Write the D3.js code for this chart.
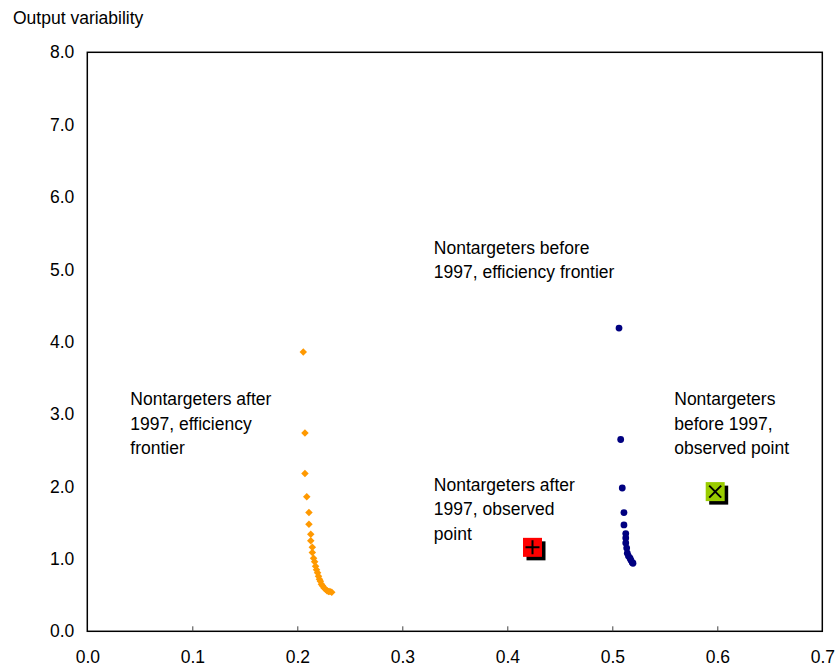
<!DOCTYPE html>
<html>
<head>
<meta charset="utf-8">
<script src="https://cdn.jsdelivr.net/npm/d3@7"></script>
<style>
	body { margin: 0; background: #fff; }
	text { font-family: Arial, 'Liberation Sans', sans-serif; fill: #000; }
</style>
</head>
<body>
<div id="graph"></div>
<script>

// frontier after 1997 (x = inflation variability, y = output variability)
var afterX = [0.2057, 0.2073, 0.2073, 0.2090, 0.2111, 0.2111, 0.2128, 0.2128, 0.2143, 0.2143,
	0.2155, 0.2165, 0.2174, 0.2183, 0.2193, 0.2202, 0.2211, 0.2220, 0.2230, 0.2240,
	0.2254, 0.2269, 0.2283, 0.2297, 0.2311, 0.2328];
var afterY = [3.86, 2.74, 2.18, 1.86, 1.64, 1.48, 1.34, 1.25, 1.16, 1.09,
	1.01, 0.96, 0.90, 0.85, 0.81, 0.76, 0.72, 0.69, 0.65, 0.63,
	0.60, 0.58, 0.56, 0.55, 0.55, 0.54];

// frontier before 1997
var beforeX = [0.5064, 0.5080, 0.5095, 0.5111, 0.5111, 0.5128, 0.5128, 0.5128, 0.5137, 0.5143,
	0.5154, 0.5169, 0.5178, 0.5190, 0.5197];
var beforeY = [4.19, 2.65, 1.98, 1.64, 1.47, 1.35, 1.29, 1.22, 1.15, 1.08,
	1.04, 1.01, 0.98, 0.95, 0.94];

// observed points
var observedAfter = [0.424, 1.16];
var observedBefore = [0.598, 1.93];

var xTicks = [0, 0.1, 0.2, 0.3, 0.4, 0.5, 0.6, 0.7];
var yTicks = [0, 1, 2, 3, 4, 5, 6, 7, 8];

var labels = [
	{ lines: ['Nontargeters after', '1997, efficiency', 'frontier'], x: 0.041, y: 3.12 },
	{ lines: ['Nontargeters before', '1997, efficiency frontier'], x: 0.330, y: 5.22 },
	{ lines: ['Nontargeters after', '1997, observed', 'point'], x: 0.330, y: 1.94 },
	{ lines: ['Nontargeters', 'before 1997,', 'observed point'], x: 0.559, y: 3.12 }
];

var width = 835,
	height = 668;

var xScale = d3.scaleLinear()
				.domain([0, 0.7])
				.range([87.3, 822.3]);

var yScale = d3.scaleLinear()
				.domain([0, 8])
				.range([631.3, 52.3]);

var svg = d3.select('#graph').append('svg')
			.attr('width', width)
			.attr('height', height);

function drawAxes() {
	// plot area frame
	svg.append('rect')
		.attr('x', xScale(0))
		.attr('y', yScale(8))
		.attr('width', xScale(0.7) - xScale(0))
		.attr('height', yScale(0) - yScale(8))
		.attr('fill', 'none')
		.attr('stroke', '#000')
		.attr('stroke-width', 1.5);

	var xAxis = d3.axisBottom(xScale)
					.tickValues(xTicks)
					.tickFormat(d3.format('.1f'))
					.tickSizeInner(-5)
					.tickSizeOuter(0)
					.tickPadding(19);

	var yAxis = d3.axisLeft(yScale)
					.tickValues(yTicks)
					.tickFormat(d3.format('.1f'))
					.tickSize(0)
					.tickPadding(13);

	var gx = svg.append('g')
		.attr('class', 'xAxis')
		.attr('transform', 'translate(0,' + yScale(0) + ')')
		.call(xAxis);

	var gy = svg.append('g')
		.attr('class', 'yAxis')
		.attr('transform', 'translate(' + xScale(0) + ',0)')
		.call(yAxis);

	gx.select('.domain').remove();
	gy.select('.domain').remove();

	// no tick marks on the frame corners
	gx.selectAll('.tick line')
		.attr('stroke', '#444')
		.style('display', function(d) { return (d == 0 || d == 0.7) ? 'none' : null; });

	svg.selectAll('.tick text')
		.style('font-size', '17.5px')
		.style('font-family', 'Arial, Liberation Sans, sans-serif');

	svg.append('text')
		.attr('x', 13)
		.attr('y', 24)
		.style('font-size', '17.5px')
		.text('Output variability');
}

function drawPoints() {
	var after = d3.zip(afterX, afterY);
	var before = d3.zip(beforeX, beforeY);

	// orange diamonds (squares turned 45 degrees)
	svg.selectAll('.after').data(after).enter()
		.append('path')
			.attr('class', 'after')
			.attr('d', d3.symbol(d3.symbolSquare, 28))
			.attr('transform', function(d) {
				return 'translate(' + xScale(d[0]) + ',' + yScale(d[1]) + ') rotate(45)';
			})
			.attr('fill', '#ff9900');

	// navy dots
	svg.selectAll('.before').data(before).enter()
		.append('circle')
			.attr('class', 'before')
			.attr('cx', function(d) { return xScale(d[0]); })
			.attr('cy', function(d) { return yScale(d[1]); })
			.attr('r', 3.4)
			.attr('fill', '#000080');

	drawBox(observedAfter, '#ff0000', 'plus');
	drawBox(observedBefore, '#99cc00', 'cross');
}

function drawBox(p, colour, mark) {
	var cx = xScale(p[0]),
		cy = yScale(p[1]),
		s = 19;

	var g = svg.append('g')
		.attr('transform', 'translate(' + cx + ',' + cy + ')');

	// shadow
	g.append('rect')
		.attr('x', -s / 2 + 3.5)
		.attr('y', -s / 2 + 3.5)
		.attr('width', s)
		.attr('height', s)
		.attr('fill', '#000');

	g.append('rect')
		.attr('x', -s / 2)
		.attr('y', -s / 2)
		.attr('width', s)
		.attr('height', s)
		.attr('fill', colour);

	var d = mark == 'plus' ? 'M-7,0H7M0,-7V7' : 'M-6,-6L6,6M6,-6L-6,6';
	g.append('path')
		.attr('d', d)
		.attr('stroke', '#000')
		.attr('stroke-width', 2)
		.attr('fill', 'none');
}

function drawLabels() {
	labels.forEach(function(l) {
		var t = svg.append('text')
			.attr('x', xScale(l.x))
			.attr('y', yScale(l.y))
			.style('font-size', '17.5px');

		t.selectAll('tspan').data(l.lines).enter()
			.append('tspan')
				.attr('x', xScale(l.x))
				.attr('dy', function(d, i) { return i == 0 ? 0 : 24.5; })
				.text(function(d) { return d; });
	});
}

drawAxes();
drawPoints();
drawLabels();

</script>
</body>
</html>
